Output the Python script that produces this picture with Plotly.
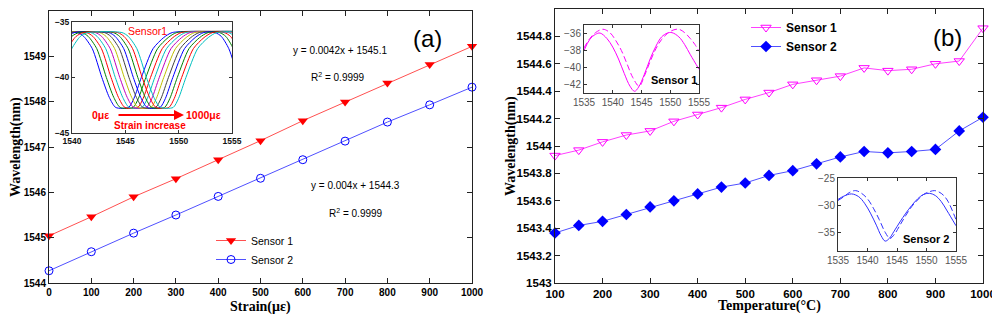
import plotly.graph_objects as go

# ---------------- data ----------------
strain = [0, 100, 200, 300, 400, 500, 600, 700, 800, 900, 1000]
s1_strain = [1545.04, 1545.46, 1545.90, 1546.30, 1546.72, 1547.14, 1547.58, 1547.99, 1548.41, 1548.82, 1549.22]
s2_strain = [1544.27, 1544.69, 1545.10, 1545.50, 1545.91, 1546.31, 1546.72, 1547.13, 1547.55, 1547.93, 1548.32]

temp = [100, 150, 200, 250, 300, 350, 400, 450, 500, 550, 600, 650, 700, 750, 800, 850, 900, 950, 1000]
s1_temp = [1543.93, 1543.97, 1544.03, 1544.08, 1544.11, 1544.18, 1544.23, 1544.28, 1544.34, 1544.39,
           1544.45, 1544.48, 1544.51, 1544.57, 1544.55, 1544.56, 1544.60, 1544.62, 1544.86]
s2_temp = [1543.365, 1543.42, 1543.45, 1543.50, 1543.555, 1543.60, 1543.65, 1543.70, 1543.73, 1543.785,
           1543.82, 1543.87, 1543.92, 1543.96, 1543.95, 1543.96, 1543.975, 1544.11, 1544.21]

# inset (a): spectrum of sensor 1 at 0 microstrain, shifted by the measured wavelength change
spec_wl = [1534.7, 1535.8, 1536.6, 1537.3, 1540.5, 1541.1, 1541.9, 1542.8, 1543.5, 1544.1, 1545.3,
           1545.8, 1546.5, 1547.6, 1548.6, 1549.4, 1553.4, 1554.0, 1554.7, 1555.6, 1556.3]
spec_pw = [-40.0, -37.4, -36.3, -35.95, -35.95, -36.3, -37.4, -40.0, -41.8, -42.7, -42.7,
           -41.9, -40.0, -37.4, -36.4, -35.95, -35.95, -36.3, -37.4, -40.0, -41.8]
spec_colors = ['#0000FF', '#008000', '#FF0000', '#00BFBF', '#BF00BF', '#BFBF00', '#404040']

# inset (b) sensor 1
b1_wl_solid = [1535, 1536, 1537, 1537.8, 1539, 1540, 1541, 1542, 1543, 1543.8, 1544.5, 1545.5, 1546.5,
               1547.5, 1548.5, 1549.5, 1550.3, 1551.5, 1552.5, 1553.5, 1555]
b1_pw_solid = [-38.0, -36.7, -36.1, -35.95, -36.6, -37.6, -39.0, -40.7, -42.2, -42.8, -42.3, -40.8, -39.0,
               -37.5, -36.4, -35.95, -35.9, -36.4, -37.3, -38.5, -40.2]
b1_wl_dash = [1535, 1536, 1537, 1538.3, 1539.5, 1540.5, 1541.5, 1542.5, 1543.5, 1544.6, 1545.5, 1546.5,
              1547.5, 1548.5, 1549.5, 1550.5, 1551.5, 1552.5, 1553.5, 1554.3, 1555]
b1_pw_dash = [-37.7, -36.6, -35.9, -35.5, -35.9, -36.8, -38.0, -39.6, -41.2, -42.2, -41.0, -39.3,
              -37.8, -36.7, -36.0, -35.6, -35.5, -35.9, -36.6, -37.3, -38.1]

# inset (b) sensor 2
b2_wl_solid = [1535, 1536, 1537.3, 1538.5, 1539.5, 1540.5, 1541.5, 1542.3, 1543.0, 1543.7, 1544.5, 1545.5,
               1546.5, 1547.5, 1548.5, 1549.5, 1550.5, 1551.5, 1552.5, 1553.5, 1555]
b2_pw_solid = [-28.9, -28.3, -27.9, -28.4, -29.6, -31.4, -33.6, -35.5, -36.5, -36.0, -34.7, -33.0,
               -31.4, -30.0, -28.8, -28.0, -27.8, -28.2, -29.3, -31.0, -33.7]
b2_wl_dash = [1535, 1536, 1537, 1538, 1539, 1540, 1541, 1542, 1543, 1543.8, 1544.6, 1545.5, 1546.5,
              1547.5, 1548.5, 1549.5, 1550.5, 1551.4, 1552.5, 1553.5, 1555]
b2_pw_dash = [-29.1, -28.4, -27.6, -27.3, -27.8, -28.8, -30.5, -32.6, -34.9, -36.0, -35.2, -33.6, -31.8,
              -30.2, -29.0, -28.0, -27.5, -27.3, -27.8, -29.0, -32.6]

ya_ticks = [1544, 1545, 1546, 1547, 1548, 1549, 1550]
yb_ticks = [1543, 1543.2, 1543.4, 1543.6, 1543.8, 1544, 1544.2, 1544.4, 1544.6, 1544.8, 1545]
yb_labels = ['1543', '1543.2', '1543.4', '1543.6', '1543.8', '1544', '1544.2', '1544.4', '1544.6', '1544.8', '1545']

# ---------------- layout helpers ----------------
# the page body has an 8px margin, so the figure is drawn 8px in from the window corner
OFF = 8
W, H = 1000 - OFF, 320 - OFF


def px(x):
    return (x - OFF) / W


def py(y):
    return 1 - (y - OFF) / H


def xd(a, b):
    return [px(a), px(b)]


def yd(top, bot):
    return [py(bot), py(top)]


SANS = 'Liberation Sans'
SERIF = 'Liberation Serif'

fig = go.Figure()

# ---- panel (a) ----
fig.add_trace(go.Scatter(x=strain, y=s1_strain, name='Sensor 1', mode='lines+markers',
                         line=dict(color='#ff5050', width=1),
                         marker=dict(symbol='triangle-down', size=9, color='#ff0000'),
                         xaxis='x', yaxis='y', cliponaxis=False, legend='legend'))
fig.add_trace(go.Scatter(x=strain, y=s2_strain, name='Sensor 2', mode='lines+markers',
                         line=dict(color='#5050ff', width=1),
                         marker=dict(symbol='circle-open', size=8, color='#0000ff', line=dict(width=1)),
                         xaxis='x', yaxis='y', cliponaxis=False, legend='legend'))

# ---- panel (b) ----
fig.add_trace(go.Scatter(x=temp, y=s1_temp, name='Sensor 1', mode='lines+markers',
                         line=dict(color='#ff40ff', width=1),
                         marker=dict(symbol='triangle-down-open', size=9, color='#ff00ff', line=dict(width=1)),
                         xaxis='x2', yaxis='y2', cliponaxis=False, legend='legend2'))
fig.add_trace(go.Scatter(x=temp, y=s2_temp, name='Sensor 2', mode='lines+markers',
                         line=dict(color='#5050ff', width=1),
                         marker=dict(symbol='diamond', size=9, color='#0000ff'),
                         xaxis='x2', yaxis='y2', cliponaxis=False, legend='legend2'))

# ---- inset (a) spectra ----
for i in range(len(s1_strain)):
    shift = s1_strain[i] - s1_strain[0]
    fig.add_trace(go.Scatter(x=[w + shift for w in spec_wl], y=spec_pw, mode='lines',
                             line=dict(color=spec_colors[i % len(spec_colors)], width=1, shape='spline', smoothing=0.7),
                             xaxis='x3', yaxis='y3', showlegend=False, hoverinfo='skip'))

# ---- inset (b) sensor 1 ----
fig.add_trace(go.Scatter(x=b1_wl_solid, y=b1_pw_solid, mode='lines',
                         line=dict(color='#ff00ff', width=1, shape='spline'),
                         xaxis='x4', yaxis='y4', showlegend=False))
fig.add_trace(go.Scatter(x=b1_wl_dash, y=b1_pw_dash, mode='lines',
                         line=dict(color='#ff00ff', width=1, dash='6px,3px', shape='spline'),
                         xaxis='x4', yaxis='y4', showlegend=False))
# ---- inset (b) sensor 2 ----
fig.add_trace(go.Scatter(x=b2_wl_solid, y=b2_pw_solid, mode='lines',
                         line=dict(color='#3030ff', width=1, shape='spline'),
                         xaxis='x5', yaxis='y5', showlegend=False))
fig.add_trace(go.Scatter(x=b2_wl_dash, y=b2_pw_dash, mode='lines',
                         line=dict(color='#3030ff', width=1, dash='6px,3px', shape='spline'),
                         xaxis='x5', yaxis='y5', showlegend=False))


def main_axis(**kw):
    d = dict(showgrid=False, zeroline=False, showline=True, linecolor='#222', linewidth=1,
             mirror='ticks', ticks='inside', ticklen=5, tickcolor='#222', tickwidth=1, automargin=False)
    d.update(kw)
    return d


def inset_axis(**kw):
    d = dict(showgrid=False, zeroline=False, showline=True, linecolor='#333', linewidth=1,
             mirror='ticks', ticks='inside', ticklen=3, tickcolor='#333', tickwidth=1, automargin=False)
    d.update(kw)
    return d


tick_a = dict(family=SANS, size=10, color='black', weight='bold')
tick_b = dict(family=SANS, size=11.5, color='black', weight='bold')
tick_ia = dict(family=SANS, size=8.5, color='#111', weight='bold')
tick_ib = dict(family=SANS, size=10, color='#555')

fig.update_layout(
    template='none',
    font=dict(family=SANS, color='black'),
    width=W, height=H, autosize=False,
    margin=dict(l=0, r=0, t=0, b=0, pad=0),
    paper_bgcolor='white', plot_bgcolor='white',
    xaxis=main_axis(domain=xd(49, 472), range=[0, 1000], dtick=100, tick0=0, tickfont=tick_a, anchor='y'),
    yaxis=main_axis(domain=yd(11, 283), range=[1544, 1550], tickvals=ya_ticks, tickfont=tick_a, anchor='x'),
    xaxis2=main_axis(domain=xd(555, 983), range=[100, 1000], dtick=100, tick0=100, tickfont=tick_b, anchor='y2'),
    yaxis2=main_axis(domain=yd(9, 283), range=[1543, 1545], tickvals=yb_ticks, ticktext=yb_labels,
                     tickfont=tick_b, anchor='x2'),
    xaxis3=inset_axis(domain=xd(72, 232), range=[1540, 1555], dtick=5, tick0=1540, tickfont=tick_ia, anchor='y3'),
    yaxis3=inset_axis(domain=yd(22, 133), range=[-45, -35], dtick=5, tick0=-45, tickfont=tick_ia, anchor='x3'),
    xaxis4=inset_axis(domain=xd(584, 699), range=[1535, 1555], dtick=5, tick0=1535, tickfont=tick_ib, anchor='y4'),
    yaxis4=inset_axis(domain=yd(25, 93), range=[-43, -35], tickvals=[-42, -40, -38, -36], tickfont=tick_ib, anchor='x4'),
    xaxis5=inset_axis(domain=xd(838, 956), range=[1535, 1555], dtick=5, tick0=1535, tickfont=tick_ib, anchor='y5'),
    yaxis5=inset_axis(domain=yd(178, 251), range=[-38.3, -25], tickvals=[-35, -30, -25], tickfont=tick_ib, anchor='x5'),
    legend=dict(x=px(211), y=py(226), xanchor='left', yanchor='top', bgcolor='rgba(0,0,0,0)', borderwidth=0,
                font=dict(family=SANS, size=10.5, color='black'), tracegroupgap=0),
    legend2=dict(x=px(746), y=py(13), xanchor='left', yanchor='top', bgcolor='rgba(0,0,0,0)', borderwidth=0,
                 font=dict(family=SANS, size=12, color='black', weight='bold'), tracegroupgap=0),
)

ann = []


def text(x, y, t, size=10, family=SANS, color='black', weight='normal', xanchor='center', angle=0):
    ann.append(dict(x=px(x), y=py(y), xref='paper', yref='paper', text=t, showarrow=False,
                    xanchor=xanchor, yanchor='middle', textangle=angle,
                    font=dict(family=family, size=size, color=color, weight=weight)))


# axis titles
text(16, 147, 'Wavelength(nm)', size=14, family=SERIF, weight='bold', angle=-90)
text(511, 146, 'Wavelength(nm)', size=14, family=SERIF, weight='bold', angle=-90)
text(260, 307, 'Strain(με)', size=14, family=SERIF, weight='bold')
text(769, 306, 'Temperature(°C)', size=14, family=SERIF, weight='bold')

# panel labels and fits
text(427, 39, '(a)', size=24)
text(947, 38, '(b)', size=24)
text(340, 51, 'y = 0.0042x + 1545.1', size=10)
text(338, 77, 'R<sup>2</sup> = 0.9999', size=10)
text(355, 185, 'y = 0.004x + 1544.3', size=10)
text(356, 213, 'R<sup>2</sup> = 0.9999', size=10)

# inset (a) texts
text(147, 31, 'Sensor1', size=10.5, color='#ff0000')
text(111, 115, '0με', size=10.5, color='#ff0000', weight='bold', xanchor='right')
text(184, 115, '1000με', size=10.5, color='#ff0000', weight='bold', xanchor='left')
text(150, 125, 'Strain increase', size=10, color='#ff0000', weight='bold')
ann.append(dict(x=px(184), y=py(115), xref='paper', yref='paper', text='', showarrow=True,
                ax=-67, ay=0, arrowhead=2, arrowsize=1, arrowwidth=2, arrowcolor='#ff0000', standoff=0))

# inset (b) texts
text(674, 80, 'Sensor 1', size=11, weight='bold')
text(926, 239, 'Sensor 2', size=11, weight='bold')

fig.update_layout(annotations=ann)

fig.write_html('out.html')
